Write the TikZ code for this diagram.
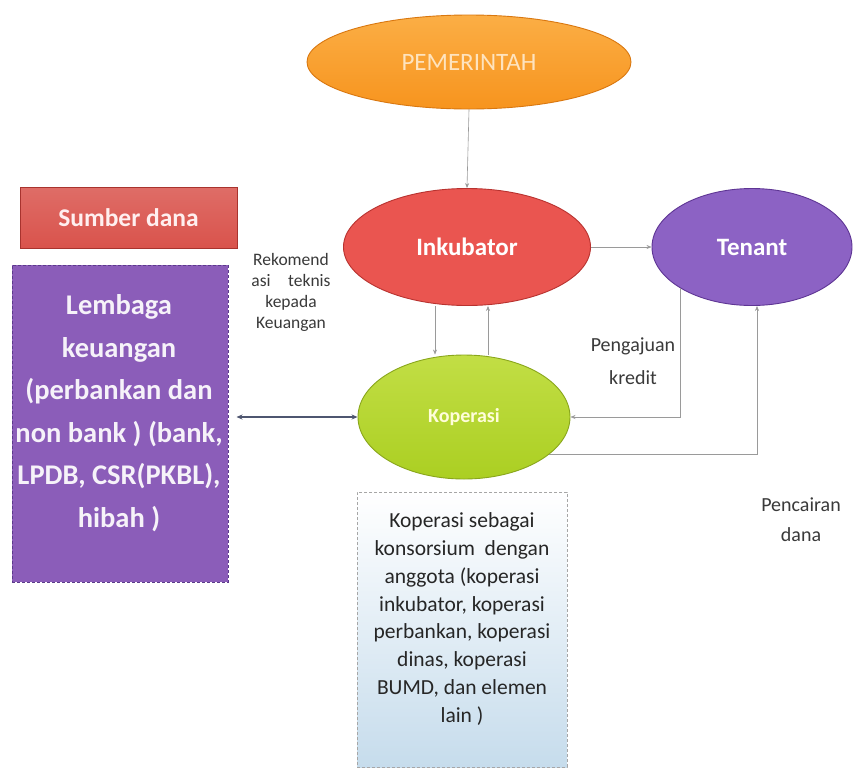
\documentclass[tikz,border=0pt]{standalone}
\usepackage{fontspec}
\setmainfont{Carlito}
\usetikzlibrary{shapes.geometric,arrows.meta}
\definecolor{pemfill}{HTML}{F7941E}
\definecolor{pemtop}{HTML}{FBAE45}
\definecolor{pemline}{HTML}{D9770F}
\definecolor{inkfill}{HTML}{EA5550}
\definecolor{inkline}{HTML}{B8322F}
\definecolor{tenfill}{HTML}{8C62C4}
\definecolor{tenline}{HTML}{5E3594}
\definecolor{kopfill}{HTML}{ABCF22}
\definecolor{koptop}{HTML}{C2DE45}
\definecolor{sumfill}{HTML}{D9534C}
\definecolor{sumline}{HTML}{A8332E}
\definecolor{lemfill}{HTML}{8B5DB9}
\definecolor{lemline}{HTML}{5C3A8C}
\definecolor{boxblue}{HTML}{C6DCEC}
\definecolor{conngray}{HTML}{9A9A9A}
\definecolor{linkdark}{HTML}{4E5670}
\definecolor{labelgray}{HTML}{3A3A3A}
\tikzset{
  oval/.style={ellipse, draw, line width=0.9pt, inner sep=0pt, text=white},
  conn/.style={draw=conngray, line width=0.6pt, -{Stealth[length=5pt,width=4pt]}},
  link/.style={draw=linkdark, line width=1.1pt, {Stealth[length=6pt,width=5pt]}-{Stealth[length=6pt,width=5pt]}},
  lbl/.style={align=center, text=labelgray, inner sep=0pt},
}
\begin{document}
\begin{tikzpicture}[x=1pt,y=-1pt]
\useasboundingbox (0,0) rectangle (854,769);
\fill[white] (0,0) rectangle (854,769);

% text beside the Inkubator oval (drawn first, the oval covers its overflow)
\node[lbl, font=\fontsize{17.5}{21}\selectfont] (rek) at (291,292)
  {Rekomend\\asi\quad teknis\\kepada\\Keuangan};

% ovals
\node[oval, draw=pemline, top color=pemtop, bottom color=pemfill,
      minimum width=324pt, minimum height=94pt, text=pemtop!35!white,
      font=\fontsize{25}{30}\selectfont] (pem) at (469,62) {PEMERINTAH};
\node[oval, draw=inkline, fill=inkfill,
      minimum width=247pt, minimum height=117pt,
      font=\fontsize{25}{30}\bfseries\selectfont] (ink) at (467,247) {Inkubator};
\node[oval, draw=tenline, fill=tenfill,
      minimum width=200pt, minimum height=117pt,
      font=\fontsize{25}{30}\bfseries\selectfont] (ten) at (752,247) {Tenant};
\node[oval, draw=kopfill!80!black, top color=koptop, bottom color=kopfill,
      minimum width=212pt, minimum height=124pt, text=yellow!15!white,
      font=\fontsize{20}{24}\bfseries\selectfont] (kop) at (464,417) {Koperasi};

% left column
\node[draw=sumline, line width=0.9pt, top color=sumfill!85!white, bottom color=sumfill,
      minimum width=217pt, minimum height=61pt, inner sep=0pt, text=pink!25!white,
      font=\fontsize{25.5}{30}\bfseries\selectfont] (sum) at (128.5,217.5) {Sumber dana};
\node[draw=lemline, line width=1pt, densely dashed, fill=lemfill,
      minimum width=216pt, minimum height=317pt, inner sep=0pt] (lem) at (120,423.5) {};
\node[align=center, text=white!92!lemfill, inner sep=0pt,
      font=\fontsize{28.5}{42.5}\bfseries\selectfont] (lemtext) at (119,413)
  {Lembaga\\keuangan\\(perbankan dan\\non bank ) (bank,\\LPDB, CSR(PKBL),\\hibah )};

% members box below Koperasi
\node[draw=gray!70, line width=0.5pt, densely dashed, top color=white, bottom color=boxblue,
      minimum width=210pt, minimum height=275pt, inner sep=0pt] (kons) at (462,629.5) {};
\node[lbl, font=\fontsize{21.5}{27.8}\selectfont, text=black!85] (konstext) at (462,619)
  {Koperasi sebagai\\konsorsium\ \ dengan\\anggota (koperasi\\inkubator, koperasi\\perbankan, koperasi\\dinas, koperasi\\BUMD, dan elemen\\lain )};

% connector labels
\node[lbl, font=\fontsize{20}{33}\selectfont] (ajuan) at (633,361) {Pengajuan\\kredit};
\node[lbl, font=\fontsize{20}{30}\selectfont] (cair) at (801,520) {Pencairan\\dana};

% connectors
\draw[conn] (pem.south) -- (ink.north);
\draw[conn] (ink.east) -- (ten.west);
\draw[conn] ([xshift=-32pt]ink.south) -- ([xshift=-32pt]ink.south |- kop.north);
\draw[conn] ([xshift=21pt]ink.south |- kop.north) -- ([xshift=21pt]ink.south);
\draw[conn] (ten.210) |- (kop.east);
\draw[conn] (kop.-24) -| ([xshift=5pt]ten.south);
\draw[link, shorten <=8pt] (lem.east |- kop.west) -- (kop.west);
\end{tikzpicture}
\end{document}
